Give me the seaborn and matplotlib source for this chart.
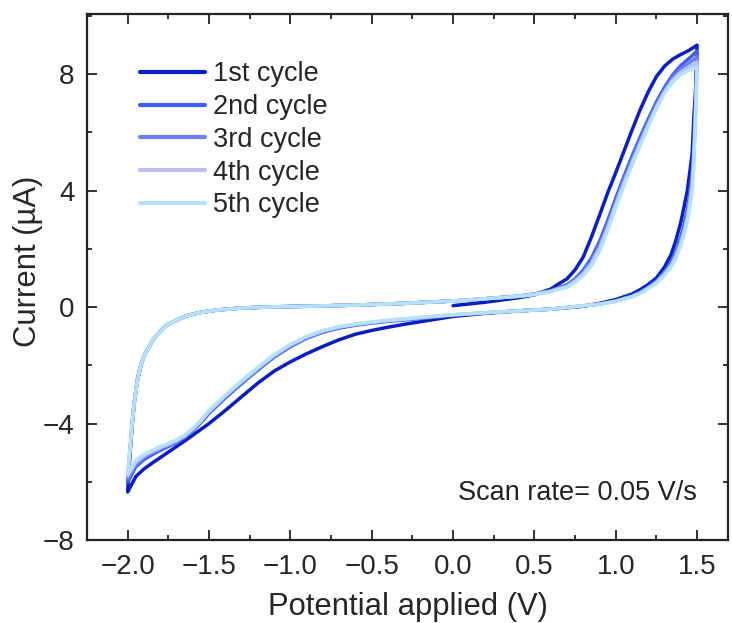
import matplotlib
matplotlib.use("Agg")
import matplotlib.pyplot as plt
import seaborn as sns
import pandas as pd
from matplotlib.ticker import MultipleLocator

# ---------------- data ----------------
# applied potential path of one cycle: 0 V -> +1.5 V -> -2.0 V -> 0 V
potential_fwd = [0.0, 0.2, 0.4, 0.5, 0.6, 0.65, 0.7, 0.75, 0.8, 0.85, 0.9, 0.95,
                 1.0, 1.05, 1.1, 1.15, 1.2, 1.25, 1.3, 1.35, 1.4, 1.45, 1.5]
potential_rev = [1.49, 1.48, 1.47, 1.46, 1.44, 1.42, 1.40, 1.37, 1.34, 1.30,
                 1.25, 1.20, 1.15, 1.10, 1.0, 0.9, 0.8, 0.6, 0.4, 0.2,
                 0.0, -0.2, -0.3, -0.4, -0.5, -0.6, -0.7, -0.8, -0.9, -1.0,
                 -1.1, -1.2, -1.3, -1.4, -1.5, -1.55, -1.6, -1.65, -1.7, -1.75,
                 -1.8, -1.85, -1.9, -1.95, -2.0]
potential_ret = [-1.99, -1.98, -1.97, -1.96, -1.94, -1.92, -1.90, -1.87, -1.84,
                 -1.80, -1.76, -1.70, -1.64, -1.55, -1.45, -1.3, -1.1, -0.9, -0.6,
                 -0.3, 0.0]

# currents (uA) for each cycle, following the potential path above
cycle1_fwd = [0.05, 0.17, 0.32, 0.42, 0.62, 0.80, 0.97, 1.28, 1.72, 2.40, 3.15, 3.92,
              4.62, 5.35, 6.08, 6.78, 7.40, 7.92, 8.28, 8.52, 8.68, 8.82, 9.00]
cycle2_fwd = [0.21, 0.29, 0.38, 0.45, 0.57, 0.67, 0.76, 0.97, 1.27, 1.68, 2.25, 2.96,
              3.74, 4.48, 5.18, 5.84, 6.46, 7.05, 7.55, 7.98, 8.30, 8.54, 8.80]
cycle3_fwd = [0.21, 0.29, 0.37, 0.44, 0.55, 0.65, 0.73, 0.93, 1.20, 1.58, 2.12, 2.83,
              3.62, 4.36, 5.06, 5.72, 6.35, 6.95, 7.46, 7.88, 8.18, 8.38, 8.60]
cycle4_fwd = [0.21, 0.29, 0.37, 0.44, 0.54, 0.63, 0.70, 0.89, 1.14, 1.50, 2.02, 2.72,
              3.52, 4.26, 4.96, 5.63, 6.27, 6.88, 7.40, 7.80, 8.08, 8.25, 8.42]
cycle5_fwd = [0.21, 0.29, 0.37, 0.43, 0.53, 0.62, 0.68, 0.85, 1.08, 1.42, 1.92, 2.62,
              3.42, 4.17, 4.88, 5.55, 6.20, 6.82, 7.35, 7.74, 8.00, 8.14, 8.25]

cycle1_rev = [7.40, 6.50, 5.30, 4.85, 4.00, 3.45, 2.92, 2.30, 1.80, 1.38,
              1.00, 0.78, 0.60, 0.45, 0.26, 0.13, 0.03, -0.07, -0.13, -0.21,
              -0.32, -0.50, -0.59, -0.69, -0.80, -0.93, -1.12, -1.35, -1.60, -1.88,
              -2.20, -2.61, -3.08, -3.55, -4.00, -4.20, -4.40, -4.60, -4.79, -4.98,
              -5.17, -5.36, -5.56, -5.82, -6.35]
cycle2_rev = [6.90, 5.60, 4.60, 4.10, 3.35, 2.85, 2.42, 1.92, 1.55, 1.22,
              0.90, 0.69, 0.52, 0.39, 0.22, 0.11, 0.04, -0.07, -0.13, -0.20,
              -0.28, -0.39, -0.44, -0.49, -0.55, -0.62, -0.72, -0.86, -1.07, -1.36,
              -1.72, -2.16, -2.63, -3.12, -3.65, -3.97, -4.25, -4.48, -4.65, -4.79,
              -4.92, -5.07, -5.24, -5.48, -6.02]
cycle3_rev = [6.70, 5.30, 4.40, 3.90, 3.15, 2.70, 2.30, 1.83, 1.48, 1.17,
              0.87, 0.67, 0.50, 0.37, 0.21, 0.10, 0.04, -0.07, -0.13, -0.20,
              -0.27, -0.37, -0.42, -0.47, -0.54, -0.61, -0.70, -0.84, -1.05, -1.33,
              -1.69, -2.13, -2.60, -3.08, -3.61, -3.94, -4.22, -4.45, -4.62, -4.75,
              -4.87, -5.01, -5.17, -5.40, -5.90]
cycle4_rev = [6.55, 5.10, 4.20, 3.75, 3.05, 2.58, 2.20, 1.75, 1.42, 1.13,
              0.84, 0.65, 0.48, 0.36, 0.20, 0.10, 0.05, -0.07, -0.13, -0.19,
              -0.26, -0.36, -0.41, -0.46, -0.52, -0.59, -0.68, -0.82, -1.02, -1.30,
              -1.66, -2.10, -2.56, -3.05, -3.58, -3.91, -4.19, -4.42, -4.59, -4.71,
              -4.83, -4.96, -5.11, -5.33, -5.80]
cycle5_rev = [6.40, 4.80, 4.00, 3.60, 2.95, 2.50, 2.12, 1.68, 1.38, 1.10,
              0.82, 0.63, 0.47, 0.35, 0.19, 0.10, 0.05, -0.07, -0.13, -0.19,
              -0.26, -0.35, -0.40, -0.45, -0.51, -0.58, -0.67, -0.80, -1.00, -1.28,
              -1.63, -2.07, -2.53, -3.02, -3.55, -3.88, -4.17, -4.40, -4.56, -4.68,
              -4.79, -4.92, -5.06, -5.26, -5.72]

cycle1_ret = [-5.40, -4.60, -3.90, -3.30, -2.50, -2.02, -1.68, -1.38, -1.08, -0.84,
              -0.62, -0.45, -0.30, -0.18, -0.10, -0.03, 0.01, 0.03, 0.07, 0.13, 0.21]
cycle2_ret = [-5.25, -4.55, -3.88, -3.30, -2.50, -2.02, -1.68, -1.38, -1.08, -0.84,
              -0.62, -0.45, -0.30, -0.18, -0.10, -0.03, 0.01, 0.03, 0.07, 0.13, 0.21]
cycle3_ret = [-5.20, -4.52, -3.86, -3.30, -2.50, -2.02, -1.68, -1.38, -1.08, -0.84,
              -0.62, -0.45, -0.30, -0.18, -0.10, -0.03, 0.01, 0.03, 0.07, 0.13, 0.21]
cycle4_ret = [-5.15, -4.50, -3.85, -3.30, -2.50, -2.02, -1.68, -1.38, -1.08, -0.84,
              -0.62, -0.45, -0.30, -0.18, -0.10, -0.03, 0.01, 0.03, 0.07, 0.13, 0.21]
cycle5_ret = [-5.10, -4.50, -3.85, -3.30, -2.50, -2.02, -1.68, -1.38, -1.08, -0.84,
              -0.62, -0.45, -0.30, -0.18, -0.10, -0.03, 0.01, 0.03, 0.07, 0.13, 0.21]

cycle_labels = ["1st cycle", "2nd cycle", "3rd cycle", "4th cycle", "5th cycle"]
cycle_colors = ["#0a1fbf", "#3f5ff0", "#6d80f2", "#b9bff6", "#b3e2fa"]

x_ticks = [-2.0, -1.5, -1.0, -0.5, 0.0, 0.5, 1.0, 1.5]
y_ticks = [-8, -4, 0, 4, 8]

# ---------------- build table ----------------
currents = [
    (cycle1_fwd, cycle1_rev, cycle1_ret),
    (cycle2_fwd, cycle2_rev, cycle2_ret),
    (cycle3_fwd, cycle3_rev, cycle3_ret),
    (cycle4_fwd, cycle4_rev, cycle4_ret),
    (cycle5_fwd, cycle5_rev, cycle5_ret),
]
potential_path = potential_fwd + potential_rev + potential_ret
rows = []
for label, (f, r, t) in zip(cycle_labels, currents):
    cur = f + r + t
    for i, (e, c) in enumerate(zip(potential_path, cur)):
        rows.append({"cycle": label, "step": i, "E": e, "I": c})
df = pd.DataFrame(rows)

# ---------------- plot ----------------
sns.set_style("ticks")
plt.rcParams["font.family"] = ["Liberation Sans", "DejaVu Sans"]

fig = plt.figure(figsize=(7.32, 6.23), dpi=100)
ax = fig.add_axes([87 / 732, 1 - 540 / 623, (728 - 87) / 732, (540 - 14) / 623])

sns.lineplot(data=df, x="E", y="I", hue="cycle", hue_order=cycle_labels,
             palette=cycle_colors, sort=False, estimator=None,
             linewidth=2.5, ax=ax, legend=False)
for ln in ax.get_lines():
    ln.set_solid_joinstyle("round")
    ln.set_solid_capstyle("round")

ax.set_xlim(-2.25, 1.69)
ax.set_ylim(-8, 10.07)
ax.set_xticks(x_ticks)
ax.set_xticklabels([f"{v:.1f}".replace("-", "\u2212") for v in x_ticks])
ax.set_yticks(y_ticks)
ax.set_yticklabels([f"{v}".replace("-", "\u2212") for v in y_ticks])
ax.xaxis.set_minor_locator(MultipleLocator(0.25))
ax.yaxis.set_minor_locator(MultipleLocator(2))
ax.tick_params(which="both", direction="in", top=True, right=True,
               labeltop=False, labelright=False, width=1.3, color="#222222")
ax.tick_params(which="major", length=7)
ax.tick_params(which="minor", length=3.5)
ax.tick_params(axis="x", which="major", labelsize=20, pad=10)
ax.tick_params(axis="y", which="major", labelsize=20, pad=9)
for s in ax.spines.values():
    s.set_linewidth(1.6)
    s.set_color("#222222")

ax.set_xlabel("Potential applied (V)", fontsize=22.3, labelpad=9)
ax.set_ylabel("Current (\u00b5A)", fontsize=22.3)
ax.yaxis.set_label_coords(-0.068, 0.53)

handles = ax.get_lines()[:5]
leg = ax.legend(handles, cycle_labels, loc="upper left",
                bbox_to_anchor=(0.083, 0.910), frameon=False, fontsize=19.5,
                handlelength=2.4, handletextpad=0.3, labelspacing=0.25,
                borderpad=0, borderaxespad=0)
for h in leg.get_lines():
    h.set_linewidth(3)

ax.text(1.5, -6.39, "Scan rate= 0.05 V/s", fontsize=19.5, ha="right",
        va="center", color="#222222")

fig.savefig("out.png", dpi=100)
